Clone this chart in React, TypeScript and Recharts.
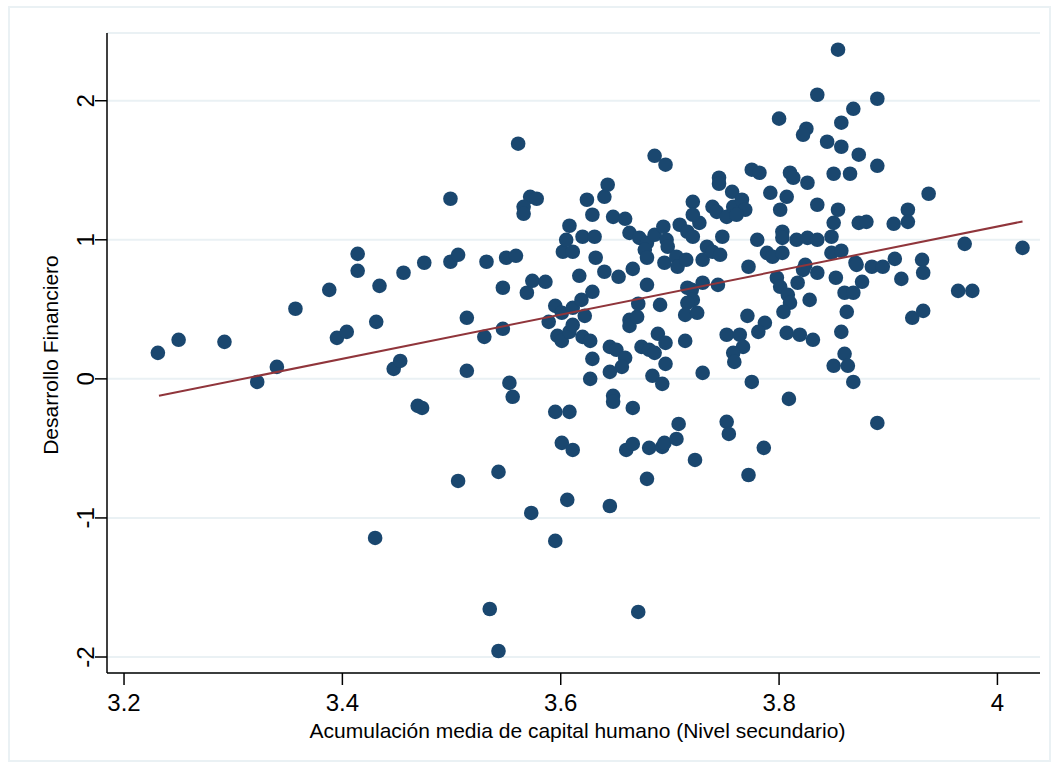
import React from 'react';
import { ScatterChart, Scatter, XAxis, YAxis, CartesianGrid } from 'recharts';

const xValues = [
  3.231, 3.250, 3.292, 3.322, 3.340, 3.357, 3.388, 3.395, 3.404, 3.414,
  3.414, 3.434, 3.431, 3.430, 3.447, 3.453, 3.456, 3.469, 3.473, 3.475,
  3.499, 3.499, 3.506, 3.532, 3.550, 3.559, 3.514, 3.514, 3.506, 3.530,
  3.547, 3.547, 3.553, 3.556, 3.543, 3.535, 3.543, 3.561, 3.572, 3.578,
  3.566, 3.566, 3.569, 3.574, 3.586, 3.573, 3.595, 3.595, 3.589, 3.595,
  3.597, 3.601, 3.601, 3.611, 3.608, 3.611, 3.619, 3.622, 3.620, 3.627,
  3.629, 3.617, 3.632, 3.629, 3.627, 3.608, 3.601, 3.611, 3.606, 3.608,
  3.602, 3.611, 3.605, 3.620, 3.631, 3.624, 3.629, 3.640, 3.643, 3.648,
  3.659, 3.663, 3.640, 3.653, 3.666, 3.645, 3.651, 3.659, 3.656, 3.645,
  3.648, 3.648, 3.666, 3.660, 3.666, 3.645, 3.663, 3.663, 3.670, 3.671,
  3.671, 3.672, 3.679, 3.677, 3.679, 3.686, 3.694, 3.697, 3.698, 3.679,
  3.691, 3.689, 3.696, 3.714, 3.674, 3.681, 3.686, 3.696, 3.684, 3.693,
  3.681, 3.693, 3.695, 3.706, 3.708, 3.723, 3.679, 3.686, 3.696, 3.695,
  3.706, 3.707, 3.715, 3.709, 3.716, 3.721, 3.727, 3.721, 3.721, 3.716,
  3.720, 3.721, 3.716, 3.714, 3.725, 3.730, 3.734, 3.739, 3.746, 3.748,
  3.730, 3.744, 3.730, 3.739, 3.743, 3.752, 3.757, 3.758, 3.766, 3.769,
  3.761, 3.745, 3.745, 3.752, 3.764, 3.767, 3.758, 3.759, 3.771, 3.752,
  3.754, 3.775, 3.782, 3.780, 3.772, 3.775, 3.772, 3.787, 3.781, 3.789,
  3.794, 3.803, 3.792, 3.807, 3.801, 3.803, 3.803, 3.816, 3.826, 3.835,
  3.810, 3.813, 3.826, 3.798, 3.801, 3.808, 3.810, 3.804, 3.817, 3.828,
  3.835, 3.807, 3.819, 3.831, 3.809, 3.786, 3.800, 3.825, 3.822, 3.835,
  3.824, 3.822, 3.835, 3.854, 3.844, 3.857, 3.868, 3.890, 3.857, 3.873,
  3.890, 3.850, 3.865, 3.854, 3.850, 3.873, 3.880, 3.848, 3.848, 3.857,
  3.852, 3.870, 3.871, 3.885, 3.895, 3.876, 3.860, 3.868, 3.862, 3.857,
  3.860, 3.863, 3.850, 3.868, 3.890, 3.906, 3.905, 3.918, 3.918, 3.937,
  3.912, 3.931, 3.932, 3.964, 3.977, 3.922, 3.932, 3.970, 4.023,
];

const yValues = [
  0.187, 0.281, 0.266, -0.022, 0.086, 0.504, 0.640, 0.295, 0.338, 0.899,
  0.777, 0.669, 0.410, -1.144, 0.072, 0.129, 0.763, -0.194, -0.209, 0.835,
  1.295, 0.842, 0.892, 0.842, 0.871, 0.885, 0.439, 0.058, -0.734, 0.302,
  0.655, 0.360, -0.029, -0.129, -0.669, -1.655, -1.957, 1.691, 1.309, 1.295,
  1.237, 1.187, 0.619, 0.705, 0.698, -0.964, -1.165, -0.237, 0.410, 0.525,
  0.309, 0.475, 0.273, 0.511, 0.338, 0.388, 0.568, 0.453, 0.302, 0.273,
  0.626, 0.741, 0.871, 0.144, 0.000, -0.237, -0.460, -0.511, -0.870, 1.101,
  0.914, 0.914, 1.000, 1.022, 1.022, 1.288, 1.180, 1.309, 1.396, 1.165,
  1.151, 1.050, 0.770, 0.734, 0.791, 0.230, 0.209, 0.151, 0.086, 0.050,
  -0.122, -0.165, -0.209, -0.511, -0.468, -0.914, 0.424, 0.381, 0.446, 0.540,
  -1.676, 1.014, 0.978, 0.928, 0.871, 1.036, 1.094, 1.000, 0.950, 0.676,
  0.532, 0.324, 0.259, 0.273, 0.230, 0.209, 0.187, 0.108, 0.022, -0.036,
  -0.496, -0.489, -0.460, -0.432, -0.324, -0.583, -0.719, 1.604, 1.540, 0.835,
  0.878, 0.806, 0.856, 1.108, 1.058, 1.022, 1.122, 1.273, 1.180, 0.655,
  0.640, 0.568, 0.547, 0.460, 0.475, 0.856, 0.950, 0.914, 0.892, 1.022,
  0.691, 0.676, 0.043, 1.237, 1.201, 1.165, 1.345, 1.237, 1.288, 1.216,
  1.180, 1.446, 1.403, 0.317, 0.317, 0.230, 0.187, 0.122, 0.453, -0.309,
  -0.396, 1.504, 1.482, 1.000, 0.806, -0.022, -0.691, 0.403, 0.338, 0.906,
  0.878, 0.906, 1.338, 1.309, 1.216, 1.058, 1.014, 1.000, 1.014, 1.000,
  1.482, 1.446, 1.410, 0.727, 0.662, 0.604, 0.547, 0.482, 0.691, 0.568,
  0.763, 0.331, 0.317, 0.281, -0.144, -0.496, 1.871, 1.799, 1.755, 1.252,
  0.820, 0.784, 2.043, 2.367, 1.705, 1.842, 1.942, 2.014, 1.669, 1.612,
  1.532, 1.475, 1.475, 1.216, 1.122, 1.122, 1.129, 1.022, 0.906, 0.921,
  0.727, 0.835, 0.820, 0.806, 0.806, 0.698, 0.619, 0.619, 0.482, 0.338,
  0.180, 0.094, 0.094, -0.022, -0.317, 0.863, 1.115, 1.216, 1.129, 1.331,
  0.719, 0.856, 0.763, 0.633, 0.633, 0.439, 0.489, 0.971, 0.942,
];

const fitX = [3.232, 4.023];
const fitY = [-0.122, 1.132];

const xTicks = [3.2, 3.4, 3.6, 3.8, 4];
const yTicks = [-2, -1, 0, 1, 2];

const xTitle = 'Acumulación media de capital humano (Nivel secundario)';
const yTitle = 'Desarrollo Financiero';

const points = xValues.map((x, i) => ({ x, y: yValues[i] }));
const fitLine = fitX.map((x, i) => ({ x, y: fitY[i] }));

const FONT = 'Liberation Sans, Arial, sans-serif';
const MARKER = '#1a476f';
const FIT = '#90353b';

const Dot = (props: any) => (
  <circle cx={props.cx} cy={props.cy} r={7.3} fill={MARKER} />
);

const XTick = (props: any) => {
  const { x, y, payload } = props;
  return (
    <text x={x} y={y + 24} textAnchor="middle" fontSize={24} fontFamily={FONT} fill="#000">
      {String(payload.value)}
    </text>
  );
};

const YTick = (props: any) => {
  const { x, y, payload } = props;
  return (
    <text
      x={0}
      y={0}
      transform={`translate(${x + 1},${y}) rotate(-90)`}
      textAnchor="middle"
      fontSize={24}
      fontFamily={FONT}
      fill="#000"
    >
      {String(payload.value)}
    </text>
  );
};

const XLabel = (props: any) => {
  const vb = props.viewBox || {};
  return (
    <text
      x={vb.x + vb.width / 2 + 4}
      y={vb.y + 65}
      textAnchor="middle"
      fontSize={21}
      fontFamily={FONT}
      fill="#000"
    >
      {xTitle}
    </text>
  );
};

const YLabel = (props: any) => {
  const vb = props.viewBox || {};
  const cx = 58;
  const cy = vb.y + vb.height / 2 + 2;
  return (
    <text
      x={0}
      y={0}
      transform={`translate(${cx},${cy}) rotate(-90)`}
      textAnchor="middle"
      fontSize={21}
      fontFamily={FONT}
      fill="#000"
    >
      {yTitle}
    </text>
  );
};

const noShape = () => <g />;

export default function App() {
  return (
    <div style={{ position: 'absolute', left: 0, top: 0, width: 1060, height: 767, background: '#fff' }}>
      <div
        style={{
          position: 'absolute',
          left: 8,
          top: 6,
          width: 1043,
          height: 756,
          border: '2px solid #eaf1f4',
          boxSizing: 'border-box',
        }}
      />
      <div style={{ position: 'absolute', left: 0, top: 0 }}>
        <ScatterChart width={1060} height={767} margin={{ top: 33, right: 20, bottom: 0, left: 0 }}>
          <CartesianGrid vertical={false} stroke="#eaf1f4" strokeWidth={2} />
          <XAxis
            type="number"
            dataKey="x"
            domain={[3.1844, 4.039]}
            ticks={xTicks}
            allowDataOverflow
            axisLine={{ stroke: '#000', strokeWidth: 1.5 }}
            tickLine={{ stroke: '#000', strokeWidth: 1.5 }}
            tickSize={12}
            tick={<XTick />}
            height={94}
            label={<XLabel />}
          />
          <YAxis
            type="number"
            dataKey="y"
            domain={[-2.115, 2.487]}
            ticks={yTicks}
            allowDataOverflow
            axisLine={{ stroke: '#000', strokeWidth: 1.5 }}
            tickLine={{ stroke: '#000', strokeWidth: 1.5 }}
            tickSize={12}
            tick={<YTick />}
            width={107}
            label={<YLabel />}
          />
          <Scatter data={points} fill={MARKER} shape={<Dot />} isAnimationActive={false} />
          <Scatter
            data={fitLine}
            line={{ stroke: FIT, strokeWidth: 2 }}
            shape={noShape}
            isAnimationActive={false}
          />
        </ScatterChart>
      </div>
    </div>
  );
}
